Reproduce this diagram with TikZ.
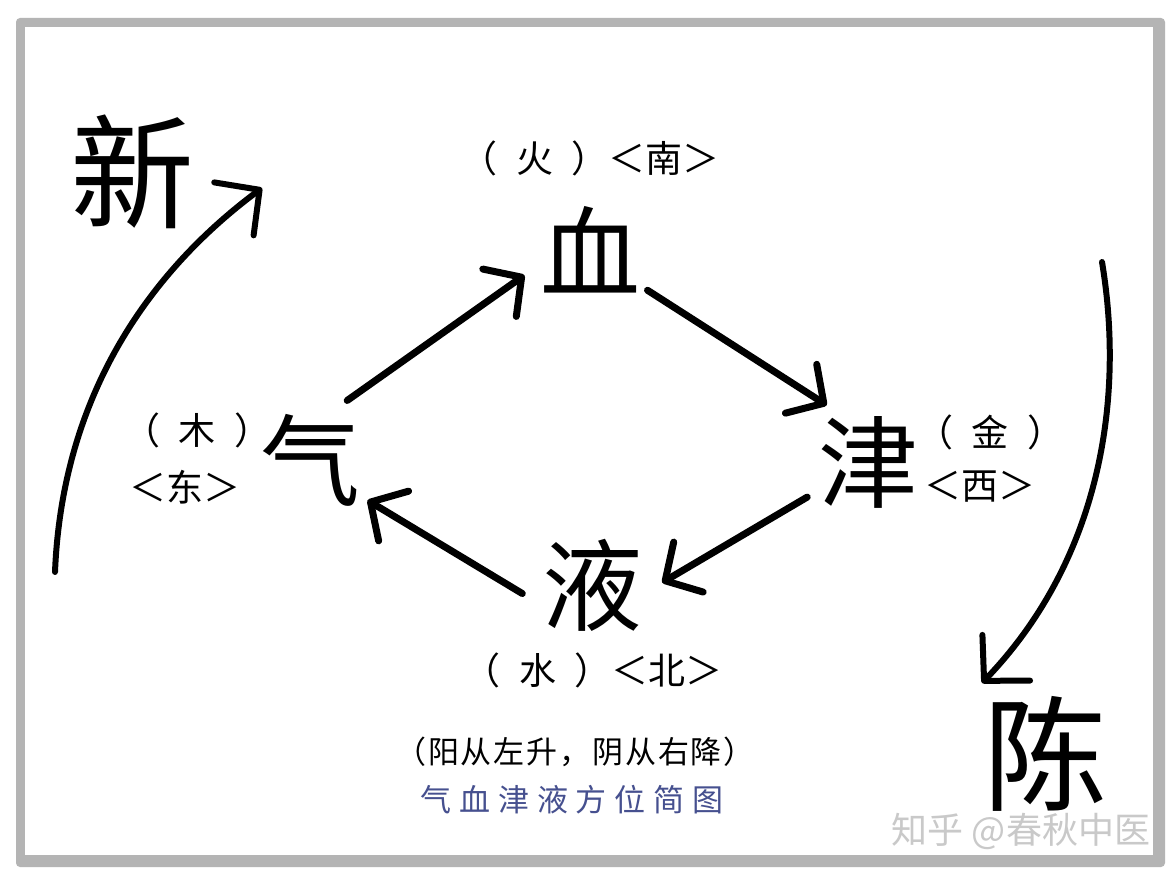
\documentclass[tikz,border=0pt]{standalone}
\usepackage{fontspec}
\newfontfamily\cjk{Noto Sans CJK SC}
\usepackage{tikz}
\usetikzlibrary{arrows.meta}

\newcommand{\parsp}{\hspace{0.5em}}
\tikzset{
  charnode/.style={circle, minimum size=140pt, inner sep=0pt, font={\cjk\fontsize{100pt}{100pt}\selectfont}},
  sidechar/.style={inner sep=0pt, font={\cjk\fontsize{124pt}{124pt}\selectfont}},
  dirlabel/.style={inner sep=0pt, font={\cjk\fontsize{37pt}{37pt}\selectfont}},
  flowarrow/.style={line width=7pt, line cap=round, -{Straight Barb[length=27pt, width=58pt, round]}},
  bigarrow/.style={line width=6pt, line cap=round, -{Straight Barb[length=32pt, width=66pt, round]}}
}

\begin{document}
\begin{tikzpicture}[x=1pt, y=-1pt]
\definecolor{frameGray}{HTML}{B4B4B4}
\definecolor{titleBlue}{HTML}{46508F}
\definecolor{markGray}{HTML}{C9C9C9}
\useasboundingbox (0,0) rectangle (1176,882);
\fill[white] (0,0) rectangle (1176,882);
\fill[frameGray, rounded corners=4pt] (16,18) rectangle (1165,867);
\fill[white] (25,27) rectangle (1153,855);

\node[charnode] (xue) at (590,250) {血};
\node[charnode] (qi)  at (310,460) {气};
\node[charnode] (jin) at (868,462) {津};
\node[charnode] (ye)  at (592,585) {液};

\draw[flowarrow] (qi.58)   -- (xue.201);
\draw[flowarrow] (xue.325) -- (jin.126);
\draw[flowarrow] (jin.210) -- (ye.2);
\draw[flowarrow] (ye.187)  -- (qi.325);

\node[dirlabel] (south) at (590,158) {（\parsp 火\parsp ）＜南＞};
\node[dirlabel] (wood)  at (197,430) {（\parsp 木\parsp ）};
\node[dirlabel] (east)  at (185,487) {＜东＞};
\node[dirlabel] (metal) at (990,432) {（\parsp 金\parsp ）};
\node[dirlabel] (west)  at (980,487) {＜西＞};
\node[dirlabel] (north) at (593,670) {（\parsp 水\parsp ）＜北＞};

\node[sidechar] (xin)  at (132,172) {新};
\node[sidechar] (chen) at (1045,754) {陈};
\coordinate (risefrom) at (55,572);
\coordinate (riseto)   at (262,188);
\coordinate (fallfrom) at (1102,262);
\coordinate (fallto)   at (982,683);
\draw[bigarrow] (risefrom) .. controls (62,400) and (145,275) .. (riseto);
\draw[bigarrow] (fallfrom) .. controls (1125,400) and (1100,560) .. (fallto);

\node[inner sep=0pt, font={\cjk\fontsize{31pt}{31pt}\selectfont\addfontfeature{LetterSpace=6}}] (rule) at (575,752) {（阳从左升，阴从右降）};
\node[inner sep=0pt, titleBlue, font={\cjk\fontsize{31pt}{31pt}\selectfont\addfontfeature{LetterSpace=25}}] (title) at (572,800) {气血津液方位简图};
\node[inner sep=0pt, markGray, font={\cjk\fontsize{36pt}{36pt}\selectfont}] (mark) at (1021,831) {知乎 @春秋中医};
\end{tikzpicture}
\end{document}
